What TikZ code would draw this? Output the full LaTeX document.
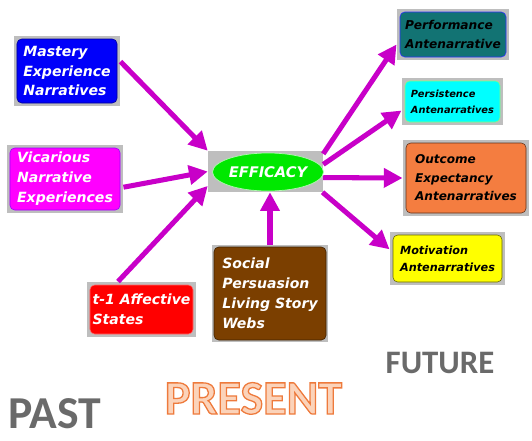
\documentclass[tikz,border=0pt]{standalone}
\usepackage{fontspec}
\setmainfont{DejaVu Sans}
\newfontfamily\tensefont{Carlito}
\usepackage{tikz}
\usetikzlibrary{arrows.meta,positioning,shapes.geometric,fit,backgrounds}
\definecolor{framegray}{HTML}{BEBEBE}
\definecolor{flowmagenta}{HTML}{C800C8}
\definecolor{masteryblue}{HTML}{0000FA}
\definecolor{vicmagenta}{HTML}{FF00FF}
\definecolor{affectred}{HTML}{FF0000}
\definecolor{socialbrown}{HTML}{7B3F00}
\definecolor{perfteal}{HTML}{127373}
\definecolor{persistcyan}{HTML}{00FFFF}
\definecolor{outcomeorange}{HTML}{F47D40}
\definecolor{motivyellow}{HTML}{FFFF00}
\definecolor{effgreen}{HTML}{00E800}
\definecolor{tensegray}{HTML}{6A6A6A}
\definecolor{presentfill}{HTML}{FBD3BA}
\tikzset{
  narrbox/.style={rectangle, rounded corners=4pt, line width=0.5pt, align=left, inner sep=0pt, font=\bfseries\itshape},
  leftbox/.style={narrbox, text=white, font=\bfseries\itshape\fontsize{12}{17}\selectfont},
  rightbox/.style={narrbox, text=black},
  framebox/.style={rectangle, fill=framegray, inner sep=2.5pt},
  flow/.style={-{Triangle[length=16pt, width=16pt]}, line width=4.3pt, draw=flowmagenta},
  tense/.style={anchor=base, inner sep=0pt, font=\tensefont\bfseries}
}

\begin{document}
\begin{tikzpicture}[x=0.03cm, y=-0.03cm]
  \useasboundingbox (0,0) rectangle (532,440);
  % past side
  \node[leftbox, fill=masteryblue, draw=masteryblue!60!black, minimum width=3.0cm, minimum height=1.92cm] (mastery) at (67,71) {Mastery\\Experience\\Narratives};
  \node[leftbox, fill=vicmagenta, draw=vicmagenta!60!blue, minimum width=3.3cm, minimum height=1.86cm] (vicarious) at (65,179) {Vicarious\\Narrative\\Experiences};
  \node[leftbox, fill=affectred, draw=affectred!60!white, minimum width=3.09cm, minimum height=1.47cm] (affect) at (141.5,309.5) {t-1 Affective\\States};
  \node[leftbox, fill=socialbrown, draw=socialbrown!50!black, minimum width=3.36cm, minimum height=2.79cm] (social) at (270,293.5) {Social\\Persuasion\\Living Story\\Webs};
  % future side
  \node[rightbox, fill=perfteal, draw=blue!80!white, minimum width=3.18cm, minimum height=1.35cm, font=\bfseries\itshape\fontsize{10.4}{16}\selectfont] (perf) at (453,34.5) {Performance\\Antenarrative};
  \node[rightbox, fill=persistcyan, draw=green!50!white, minimum width=2.85cm, minimum height=1.23cm, font=\bfseries\itshape\fontsize{8.4}{13.7}\selectfont] (persist) at (452.5,101.5) {Persistence\\Antenarratives};
  \node[rightbox, fill=outcomeorange, draw=outcomeorange!40!black, minimum width=3.6cm, minimum height=2.1cm, font=\bfseries\itshape\fontsize{10.3}{15.8}\selectfont] (outcome) at (466,178) {Outcome\\Expectancy\\Antenarratives};
  \node[rightbox, fill=motivyellow, draw=motivyellow!40!black, minimum width=3.27cm, minimum height=1.41cm, font=\bfseries\itshape\fontsize{9.6}{14.5}\selectfont] (motiv) at (447.5,258.5) {Motivation\\Antenarratives};
  % hub
  \node[framebox, minimum width=3.45cm, minimum height=1.23cm, inner sep=0pt] (efficacy-f) at (265.5,171.5) {};
  \node[ellipse, fill=effgreen, draw=white!70!effgreen, line width=0.6pt, minimum width=3.21cm, minimum height=1.14cm, inner sep=0pt, text=white, font=\bfseries\itshape\fontsize{12.5}{14}\selectfont] (efficacy) at (268,172) {EFFICACY};
  \begin{scope}[on background layer]
    \node[framebox, fit=(mastery)] (mastery-f) {};
    \node[framebox, fit=(vicarious)] (vicarious-f) {};
    \node[framebox, fit=(affect)] (affect-f) {};
    \node[framebox, fit=(social), inner sep=1.2pt] (social-f) {};
    \node[framebox, fit=(perf)] (perf-f) {};
    \node[framebox, fit=(persist)] (persist-f) {};
    \node[framebox, fit=(outcome)] (outcome-f) {};
    \node[framebox, fit=(motiv)] (motiv-f) {};
  \end{scope}
  % arrows into efficacy
  \draw[flow] (mastery-f.10) -- (efficacy-f.north west);
  \draw[flow] (vicarious-f.-8) -- (efficacy-f.west);
  \draw[flow] (affect-f.130) -- (efficacy-f.194);
  \draw[flow] (social-f.north) -- (social-f.north |- efficacy-f.south);
  % arrows out of efficacy
  \draw[flow] (efficacy-f.17) -- (perf-f.190);
  \draw[flow] (efficacy-f.7) -- (persist-f.190);
  \draw[flow] (efficacy-f.-6) -- (outcome-f.west);
  \draw[flow] (efficacy-f.-20) -- (motiv-f.171);
  % time labels
  \node[tense, text=tensegray, font=\tensefont\bfseries\fontsize{28}{30}\selectfont] (future) at (440,373) {FUTURE};
  \node[tense, text=tensegray, font=\tensefont\bfseries\fontsize{39}{41}\selectfont] (past) at (55,428) {PAST};
  \node[tense, text=presentfill, font=\tensefont\bfseries\fontsize{41}{43}\selectfont] (present) at (253.5,414) {\special{pdf:code 0.933 0.478 0.235 RG 1.1 w 2 Tr}PRESENT\special{pdf:code 0 Tr}};
\end{tikzpicture}
\end{document}
